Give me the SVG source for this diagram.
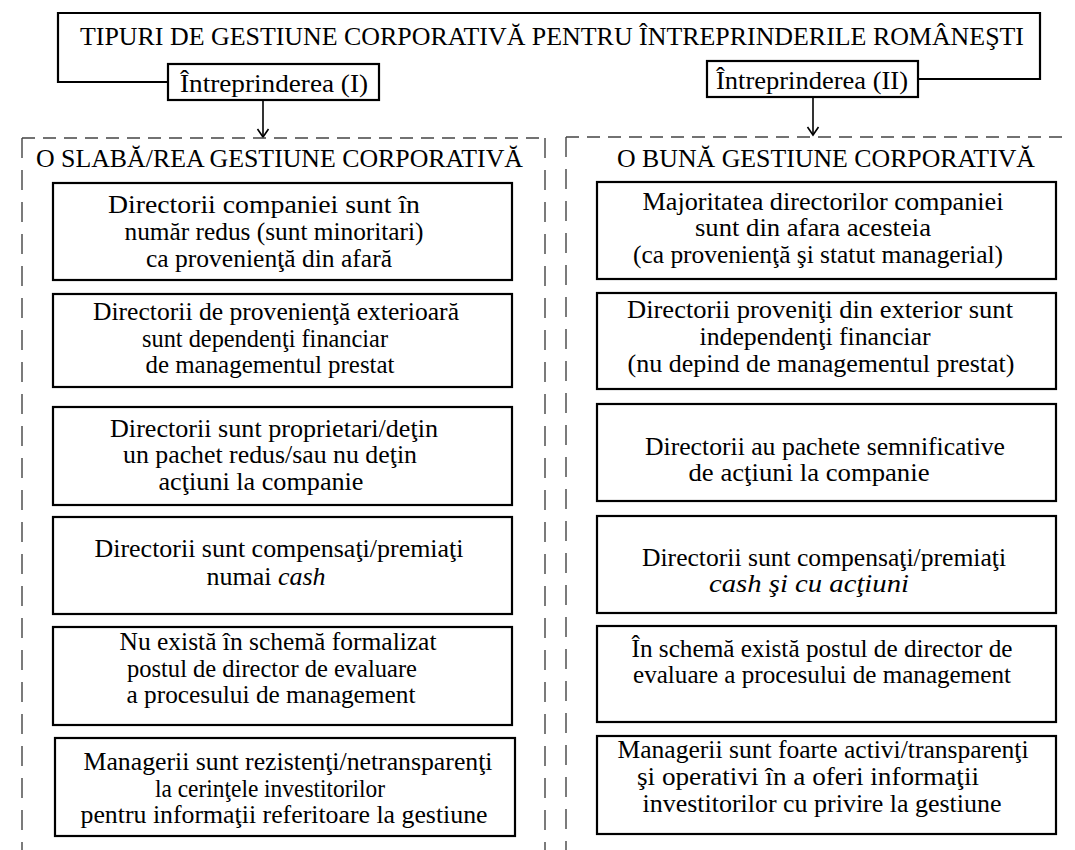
<svg xmlns="http://www.w3.org/2000/svg" width="1075" height="850" viewBox="0 0 1075 850">
<defs>
<style>
text{font-family:'Liberation Serif','Times New Roman',serif;font-size:25px;fill:#000}
.c{text-anchor:middle}
.box{fill:#fff;stroke:#000;stroke-width:2.2}
.br{fill:none;stroke:#000;stroke-width:2.2}
.dh{stroke:#444;stroke-width:1.4;stroke-dasharray:13 8;fill:none}
.dv{stroke:#444;stroke-width:1.4;stroke-dasharray:20 12;fill:none}
.arr{stroke:#000;stroke-width:1.6;fill:none}
.it{font-style:italic}
</style>
<marker id="ah" markerWidth="14" markerHeight="14" refX="11" refY="7" orient="auto" markerUnits="userSpaceOnUse">
<path d="M3,1.5 L11,7 L3,12.5" fill="none" stroke="#000" stroke-width="1.6"/>
</marker>
</defs>
<rect width="1075" height="850" fill="#fff"/>

<g id="title">
<path class="br" d="M168,82 H58 V13 H1040 V79 H917"/>
<text x="80" y="45" textLength="944" lengthAdjust="spacingAndGlyphs">TIPURI DE GESTIUNE  CORPORATIVĂ  PENTRU ÎNTREPRINDERILE ROMÂNEŞTI</text>
</g>

<g id="intreprinderea1">
<rect class="box" x="168" y="64" width="211" height="36"/>
<text class="c" x="274" y="92" textLength="188" lengthAdjust="spacingAndGlyphs">Întreprinderea (I)</text>
</g>

<g id="intreprinderea2">
<rect class="box" x="707" y="61" width="211" height="36"/>
<text class="c" x="812" y="89" textLength="192" lengthAdjust="spacingAndGlyphs">Întreprinderea (II)</text>
</g>

<g id="connectors">
<line class="arr" x1="263" y1="100" x2="263" y2="137" marker-end="url(#ah)"/>
<line class="arr" x1="813" y1="97" x2="813" y2="135" marker-end="url(#ah)"/>
</g>

<g id="col-left">
<line class="dh" x1="22" y1="138" x2="545" y2="138"/>
<line class="dv" x1="22" y1="138" x2="22" y2="850"/>
<line class="dv" x1="545" y1="138" x2="545" y2="850"/>
<text x="36" y="167" textLength="487" lengthAdjust="spacingAndGlyphs">O SLABĂ/REA GESTIUNE CORPORATIVĂ</text>
</g>

<g id="col-right">
<line class="dh" x1="566" y1="137" x2="1067" y2="137"/>
<line class="dv" x1="566" y1="137" x2="566" y2="850"/>
<text x="617" y="167" textLength="418" lengthAdjust="spacingAndGlyphs">O BUNĂ GESTIUNE CORPORATIVĂ</text>
</g>

<g id="box-l1">
<rect class="box" x="53" y="183" width="459" height="97"/>
<text class="c" x="264" y="213" textLength="312" lengthAdjust="spacingAndGlyphs">Directorii companiei sunt în</text>
<text class="c" x="274" y="240" textLength="299" lengthAdjust="spacingAndGlyphs">număr redus (sunt minoritari)</text>
<text class="c" x="269" y="267" textLength="246" lengthAdjust="spacingAndGlyphs">ca provenienţă din afară</text>
</g>
<g id="box-l2">
<rect class="box" x="53" y="294" width="459" height="93"/>
<text class="c" x="276" y="320" textLength="366" lengthAdjust="spacingAndGlyphs">Directorii de provenienţă exterioară</text>
<text class="c" x="265" y="347" textLength="246" lengthAdjust="spacingAndGlyphs">sunt dependenţi financiar</text>
<text class="c" x="270" y="373" textLength="249" lengthAdjust="spacingAndGlyphs">de managementul prestat</text>
</g>
<g id="box-l3">
<rect class="box" x="53" y="407" width="459" height="98"/>
<text class="c" x="274" y="437" textLength="328" lengthAdjust="spacingAndGlyphs">Directorii sunt proprietari/deţin</text>
<text class="c" x="270" y="463" textLength="294" lengthAdjust="spacingAndGlyphs">un pachet redus/sau nu deţin</text>
<text class="c" x="261" y="490" textLength="205" lengthAdjust="spacingAndGlyphs">acţiuni la companie</text>
</g>
<g id="box-l4">
<rect class="box" x="53" y="517" width="459" height="97"/>
<text class="c" x="279" y="557" textLength="369" lengthAdjust="spacingAndGlyphs">Directorii sunt compensaţi/premiaţi</text>
<text class="c" x="266" y="585" textLength="119" lengthAdjust="spacingAndGlyphs">numai <tspan class="it">cash</tspan></text>
</g>
<g id="box-l5">
<rect class="box" x="53" y="627" width="459" height="98"/>
<text class="c" x="278" y="650" textLength="317" lengthAdjust="spacingAndGlyphs">Nu există în schemă formalizat</text>
<text class="c" x="272" y="677" textLength="290" lengthAdjust="spacingAndGlyphs">postul de director de evaluare</text>
<text class="c" x="271" y="703" textLength="289" lengthAdjust="spacingAndGlyphs">a procesului de management</text>
</g>
<g id="box-l6">
<rect class="box" x="55" y="738" width="460" height="98"/>
<text class="c" x="288" y="770" textLength="409" lengthAdjust="spacingAndGlyphs">Managerii sunt rezistenţi/netransparenţi</text>
<text class="c" x="270" y="797" textLength="230" lengthAdjust="spacingAndGlyphs">la cerinţele investitorilor</text>
<text class="c" x="284" y="823" textLength="407" lengthAdjust="spacingAndGlyphs">pentru informaţii referitoare la gestiune</text>
</g>

<g id="box-r1">
<rect class="box" x="597" y="182" width="459" height="97"/>
<text class="c" x="823" y="210" textLength="361" lengthAdjust="spacingAndGlyphs">Majoritatea directorilor companiei</text>
<text class="c" x="813" y="236" textLength="236" lengthAdjust="spacingAndGlyphs">sunt din afara acesteia</text>
<text class="c" x="818" y="263" textLength="370" lengthAdjust="spacingAndGlyphs">(ca provenienţă şi statut managerial)</text>
</g>
<g id="box-r2">
<rect class="box" x="597" y="293" width="459" height="96"/>
<text class="c" x="820" y="318" textLength="386" lengthAdjust="spacingAndGlyphs">Directorii proveniţi din exterior sunt</text>
<text class="c" x="815" y="345" textLength="231" lengthAdjust="spacingAndGlyphs">independenţi financiar</text>
<text class="c" x="821" y="372" textLength="387" lengthAdjust="spacingAndGlyphs">(nu depind de managementul prestat)</text>
</g>
<g id="box-r3">
<rect class="box" x="597" y="404" width="459" height="97"/>
<text class="c" x="825" y="455" textLength="360" lengthAdjust="spacingAndGlyphs">Directorii au pachete semnificative</text>
<text class="c" x="809" y="481" textLength="241" lengthAdjust="spacingAndGlyphs">de acţiuni la companie</text>
</g>
<g id="box-r4">
<rect class="box" x="597" y="516" width="459" height="97"/>
<text class="c" x="824" y="566" textLength="364" lengthAdjust="spacingAndGlyphs">Directorii sunt compensaţi/premiaţi</text>
<text class="c it" x="809" y="592" textLength="200" lengthAdjust="spacingAndGlyphs">cash şi cu acţiuni</text>
</g>
<g id="box-r5">
<rect class="box" x="597" y="626" width="459" height="96"/>
<text class="c" x="822" y="657" textLength="381" lengthAdjust="spacingAndGlyphs">În schemă există postul de director de</text>
<text class="c" x="822" y="683" textLength="378" lengthAdjust="spacingAndGlyphs">evaluare a procesului de management</text>
</g>
<g id="box-r6">
<rect class="box" x="597" y="736" width="459" height="98"/>
<text class="c" x="823" y="758" textLength="411" lengthAdjust="spacingAndGlyphs">Managerii sunt foarte activi/transparenţi</text>
<text class="c" x="808" y="785" textLength="342" lengthAdjust="spacingAndGlyphs">şi operativi în a oferi informaţii</text>
<text class="c" x="822" y="812" textLength="359" lengthAdjust="spacingAndGlyphs">investitorilor cu privire la gestiune</text>
</g>
</svg>
